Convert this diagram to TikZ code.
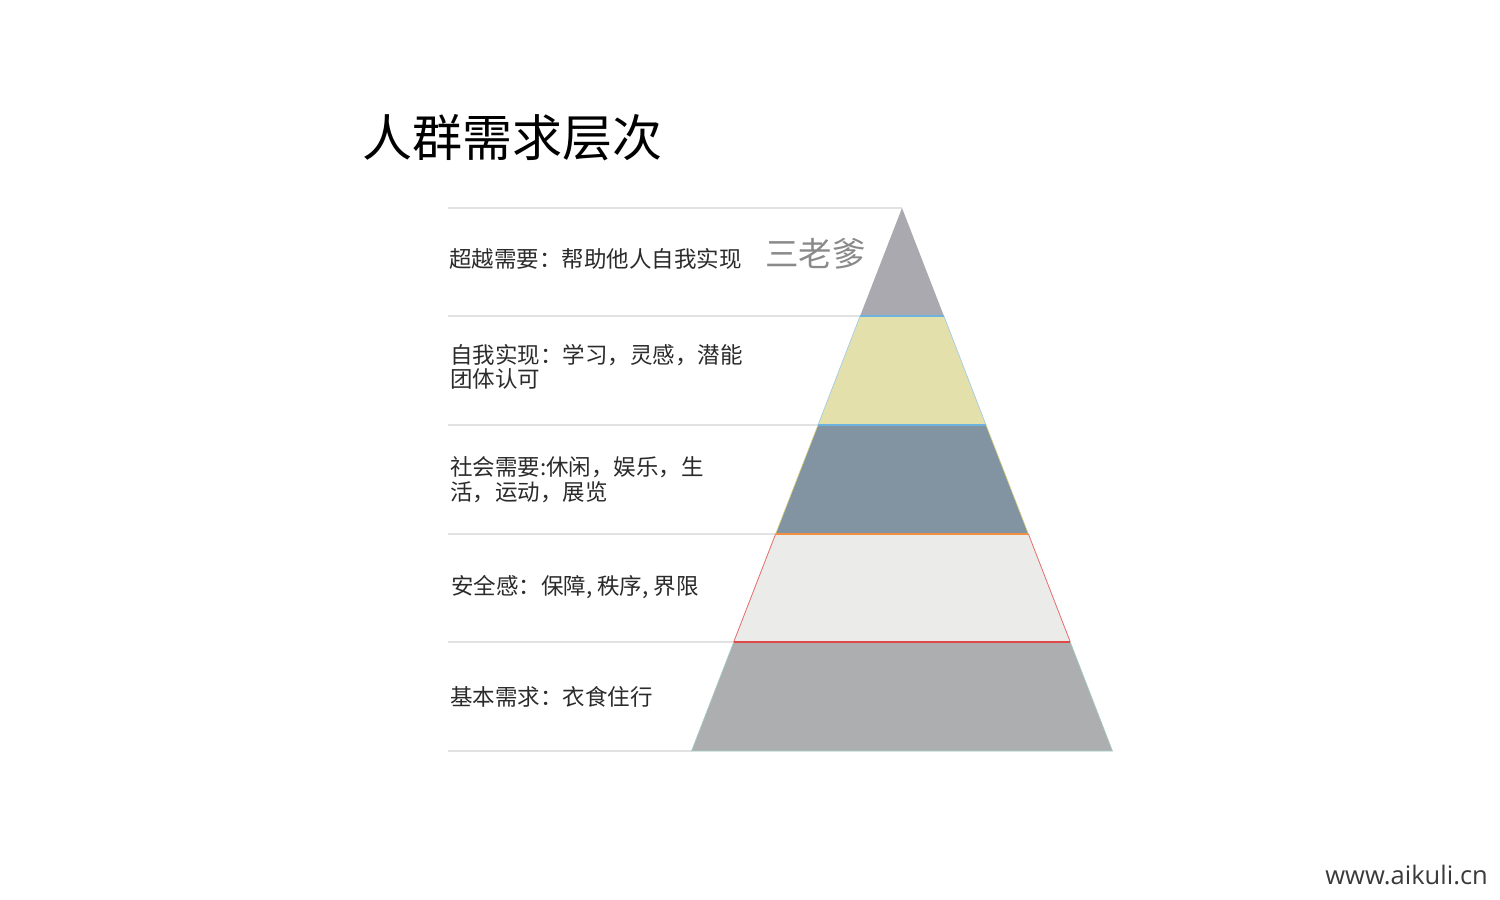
\documentclass[tikz,border=0pt]{standalone}
\usepackage{fontspec}
\newfontfamily\cjk{Noto Sans CJK SC}
\newfontfamily\urlfont{Open Sans}
\definecolor{rulegray}{HTML}{E2E2E2}
\definecolor{labeltext}{HTML}{2B2B2B}
\definecolor{tierA}{HTML}{A9A9AF}
\definecolor{tierB}{HTML}{E3E0AC}
\definecolor{tierC}{HTML}{8293A1}
\definecolor{tierD}{HTML}{EBEBE9}
\definecolor{tierE}{HTML}{ADAEB0}
\definecolor{seamblue}{HTML}{6DB3E0}
\definecolor{seamyellow}{HTML}{D8D27A}
\definecolor{seamorange}{HTML}{F09040}
\definecolor{seamred}{HTML}{E04848}
\definecolor{seamgreen}{HTML}{A6D0C4}
\definecolor{sigray}{HTML}{8A8A8A}
\definecolor{urlgray}{HTML}{3A3A3A}
\begin{document}
\begin{tikzpicture}[x=1pt,y=-1pt,
  rule/.style={draw=rulegray, line width=1.6pt},
  label/.style={anchor=west, inner sep=0pt, font=\cjk\fontsize{22.5}{24.5}\selectfont, text=labeltext, align=left},
  sig/.style={anchor=west, inner sep=0pt, font=\cjk\fontsize{33.5}{36}\selectfont, text=sigray},
  titletext/.style={anchor=west, inner sep=0pt, font=\cjk\fontsize{50}{54}\selectfont, text=black},
  urltext/.style={anchor=east, inner sep=0pt, font=\urlfont\fontsize{25.5}{28}\selectfont, text=urlgray},
  seam/.style={line width=1.2pt},
]
\useasboundingbox (0,0) rectangle (1500,900);
\fill[white] (0,0) rectangle (1500,900);

% pyramid corners
\coordinate (apex) at (902,208);
\coordinate (l1) at (860.1,316); \coordinate (r1) at (943.9,316);
\coordinate (l2) at (818,425);   \coordinate (r2) at (986,425);
\coordinate (l3) at (775.6,534); \coordinate (r3) at (1028.4,534);
\coordinate (l4) at (733.7,642); \coordinate (r4) at (1070.3,642);
\coordinate (l5) at (691.5,751); \coordinate (r5) at (1112.5,751);

% rule starts
\coordinate (s0) at (448,208);
\coordinate (s1) at (448,316);
\coordinate (s2) at (448,425);
\coordinate (s3) at (448,534);
\coordinate (s4) at (448,642);
\coordinate (s5) at (448,751);

% horizontal rules
\draw[rule] (s0) -- (apex);
\draw[rule] (s1) -- (l1);
\draw[rule] (s2) -- (l2);
\draw[rule] (s3) -- (l3);
\draw[rule] (s4) -- (l4);
\draw[rule] (s5) -- (l5);

% tiers
\fill[tierA] (apex) -- (r1) -- (l1) -- cycle;
\fill[tierB] (l1) -- (r1) -- (r2) -- (l2) -- cycle;
\fill[tierC] (l2) -- (r2) -- (r3) -- (l3) -- cycle;
\fill[tierD] (l3) -- (r3) -- (r4) -- (l4) -- cycle;
\fill[tierE] (l4) -- (r4) -- (r5) -- (l5) -- cycle;

% seams and edges
\draw[seam, draw=seamblue] (l1) -- (r1);
\draw[line width=0.6pt, draw=seamblue!70] (l1) -- (l2) (r1) -- (r2);
\draw[seam, draw=seamblue] (l2) -- (r2);
\draw[line width=0.6pt, draw=seamyellow] (l2) -- (l3) (r2) -- (r3);
\draw[seam, draw=seamorange] (l3) -- (r3);
\draw[line width=0.8pt, draw=seamred!80] (l3) -- (l4) (r3) -- (r4);
\draw[line width=1.6pt, draw=seamred] (l4) -- (r4);
\draw[line width=0.6pt, draw=seamgreen] (l4) -- (l5) -- (r5) -- (r4);

% labels
\node[label] (t1) at (449,259) {超越需要：帮助他人自我实现};
\node[label] (t2) at (450,367) {自我实现：学习，灵感，潜能\\团体认可};
\node[label] (t3) at (450,479.5) {社会需要:休闲，娱乐，生\\活，运动，展览};
\node[label] (t4) at (451,587) {安全感：保障, 秩序, 界限};
\node[label] (t5) at (450,697) {基本需求：衣食住行};

\node[sig] (signature) at (765,254) {三老爹};
\node[titletext] (title) at (362,138) {人群需求层次};
\node[urltext] (url) at (1488,875) {www.aikuli.cn};
\end{tikzpicture}
\end{document}
